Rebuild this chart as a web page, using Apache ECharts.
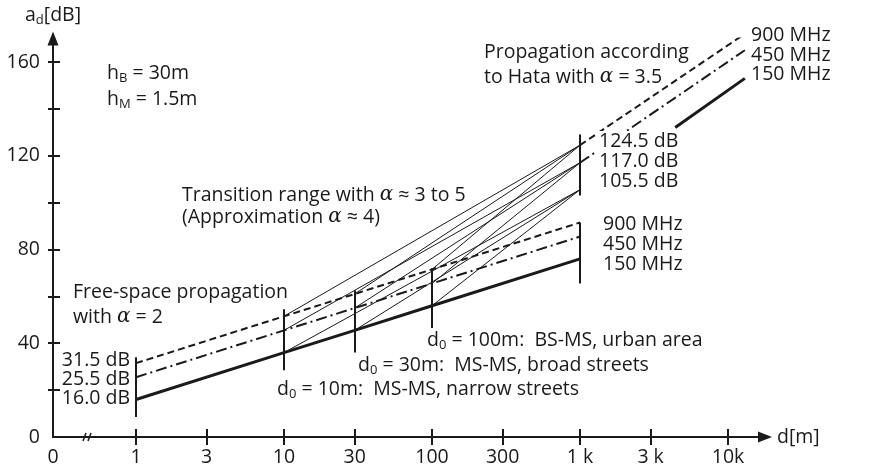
<!DOCTYPE html>
<html>
<head>
<meta charset="utf-8">
<script src="https://cdn.jsdelivr.net/npm/echarts@6/dist/echarts.min.js"></script>
<style>
html, body { margin: 0; padding: 0; background: #fff; }
#chart { width: 876px; height: 468px; }
</style>
</head>
<body>
<div id="chart"></div>
<script>
// free-space lines (alpha = 2), distances in metres, values in dB
var freeDist = [1, 10, 30, 100, 1000];
var free900 = [31.5, 51.5, 61, 71.5, 91.5];
var free450 = [25.5, 45.5, 55, 65.5, 85.5];
var free150 = [16.0, 36, 45.5, 56, 76];

// breakpoints d0 and the Hata values at 1 km
var breakDist = [10, 30, 100];
var hataRef = 1000;
var hataAt1k = [124.5, 117.0, 105.5];

// Hata lines (alpha = 3.5) beyond 1 km
var hata900Dist = [1000, 13000];
var hata900 = [124.5, 172];
var hata450Dist = [1000, 13000];
var hata450 = [117.0, 165];
var hata150Dist = [4400, 13000];
var hata150 = [132, 153];

// vertical marker bars
var barDist = [1, 10, 30, 100, 1000, 1000];
var barLow = [8.5, 28.5, 36, 46.5, 65.5, 103];
var barHigh = [34, 54.5, 62.5, 72, 91.5, 129];

// axis ticks
var xTicks = [1, 3, 10, 30, 100, 300, 1000, 3000, 10000];
var xTickLabels = ['1', '3', '10', '30', '100', '300', '1 k', '3 k', '10k'];
var yLabels = [0, 40, 80, 120, 160];
var yTicks = [20, 40, 60, 80, 100, 120, 140, 160];

var lg = Math.log10;
var X_MIN = -0.561, X_MAX = 4.25;
var FONT = '"Open Sans", "Noto Sans", sans-serif';
var INK = '#1a1a1a';

function pts(dist, vals) {
    return dist.map(function (d, i) { return [lg(d), vals[i]]; });
}

var transLines = [];
breakDist.forEach(function (d0) {
    var i = freeDist.indexOf(d0);
    [free900, free450, free150].forEach(function (arr, k) {
        transLines.push({coords: [[lg(d0), arr[i]], [lg(hataRef), hataAt1k[k]]]});
    });
});
var bars = barDist.map(function (d, i) {
    return {coords: [[lg(d), barLow[i]], [lg(d), barHigh[i]]]};
});

var DASH = [7, 4];
var DASHDOT = [11, 4, 2, 4];

function lineSeries(data, type, width) {
    return {
        type: 'line', data: data, symbol: 'none', silent: true,
        lineStyle: {color: INK, width: width, type: type}
    };
}

var rich = {
    s: {fontSize: 13, fontFamily: FONT, fill: INK, color: INK, padding: [10, 0, 0, 0]},
    a: {fontSize: 20, fontFamily: 'DejaVu Serif', fontStyle: 'italic', fill: INK, color: INK}
};
function txt(x, y, text, align, bg) {
    var style = {
        text: text, rich: rich, fontSize: 19.5, fontFamily: FONT, fill: INK,
        align: align || 'left', verticalAlign: 'middle'
    };
    if (bg) {
        style.backgroundColor = '#fff';
        style.padding = [0, 1, 0, 2];
    }
    return {type: 'text', x: x, y: y, silent: true, z: 10, style: style};
}

var chart = echarts.init(document.getElementById('chart'));
chart.setOption({
    animation: false,
    backgroundColor: '#fff',
    grid: {left: 53, right: 111, top: 38.5, bottom: 31},
    xAxis: [{
        type: 'value', min: X_MIN, max: X_MAX,
        name: 'd[m]', nameLocation: 'end', nameGap: 12,
        nameTextStyle: {fontSize: 19.5, fontFamily: FONT, color: INK, verticalAlign: 'middle'},
        axisLine: {onZero: false, lineStyle: {color: INK, width: 2}, symbol: ['none', 'triangle'], symbolSize: [11, 14]},
        axisTick: {customValues: xTicks.map(lg), length: 8, lineStyle: {color: INK, width: 2}},
        axisLabel: {
            customValues: [X_MIN].concat(xTicks.map(lg)), margin: 10,
            fontSize: 19.5, fontFamily: FONT, color: INK,
            formatter: function (v) {
                if (Math.abs(v - X_MIN) < 1e-6) return '0';
                var i = xTicks.indexOf(Math.round(Math.pow(10, v)));
                return i < 0 ? '' : xTickLabels[i];
            }
        },
        splitLine: {show: false}
    }, {
        type: 'value', min: X_MIN, max: X_MAX, position: 'bottom',
        axisLine: {show: false, onZero: false},
        axisTick: {inside: true, customValues: xTicks.map(lg), length: 8, lineStyle: {color: INK, width: 2}},
        axisLabel: {show: false},
        splitLine: {show: false}
    }],
    yAxis: [{
        type: 'value', min: 0, max: 170,
        name: '{m|a}{s|d}{m|[dB]}', nameLocation: 'end', nameGap: 12,
        nameTextStyle: {
            rich: {
                m: {fontSize: 19.5, fontFamily: FONT, color: INK},
                s: {fontSize: 13, fontFamily: FONT, color: INK, padding: [10, 0, 0, 0]}
            }
        },
        axisLine: {onZero: false, lineStyle: {color: INK, width: 2}, symbol: ['none', 'triangle'], symbolSize: [11, 14]},
        axisTick: {customValues: yTicks, length: 5, lineStyle: {color: INK, width: 2}},
        axisLabel: {customValues: yLabels, margin: 13, fontSize: 19.5, fontFamily: FONT, color: INK},
        splitLine: {show: false}
    }, {
        type: 'value', min: 0, max: 170, position: 'left',
        axisLine: {show: false, onZero: false},
        axisTick: {inside: true, customValues: yTicks, length: 7, lineStyle: {color: INK, width: 2}},
        axisLabel: {show: false},
        splitLine: {show: false}
    }],
    series: [
        lineSeries(pts(freeDist, free900), DASH, 2),
        lineSeries(pts(freeDist, free450), DASHDOT, 2),
        lineSeries(pts(freeDist, free150), 'solid', 3),
        lineSeries(pts(hata900Dist, hata900), DASH, 2),
        lineSeries(pts(hata450Dist, hata450), DASHDOT, 2),
        lineSeries(pts(hata150Dist, hata150), 'solid', 3),
        {
            type: 'lines', coordinateSystem: 'cartesian2d', silent: true,
            data: transLines, lineStyle: {color: INK, width: 1, opacity: 1}
        },
        {
            type: 'lines', coordinateSystem: 'cartesian2d', silent: true,
            data: bars, lineStyle: {color: INK, width: 2, opacity: 1}
        }
    ],
    graphic: [
        // axis break mark
        {type: 'rect', shape: {x: 84, y: 432, width: 7, height: 10}, style: {fill: '#fff'}, silent: true},
        {type: 'line', shape: {x1: 83, y1: 441, x2: 86, y2: 433}, style: {stroke: INK, lineWidth: 1.5}, silent: true},
        {type: 'line', shape: {x1: 88, y1: 441, x2: 91, y2: 433}, style: {stroke: INK, lineWidth: 1.5}, silent: true},

        txt(107, 73, 'h{s|B} = 30m'),
        txt(107, 99, 'h{s|M} = 1.5m'),
        txt(484, 52, 'Propagation according'),
        txt(484, 77, 'to Hata with {a|α} = 3.5'),
        txt(182, 195, 'Transition range with {a|α} ≈ 3 to 5'),
        txt(182, 217, '(Approximation {a|α} ≈ 4)'),
        txt(73, 292, 'Free-space propagation'),
        txt(73, 317, 'with {a|α} = 2'),
        txt(130, 360, '31.5 dB', 'right'),
        txt(130, 379, '25.5 dB', 'right'),
        txt(130, 398, '16.0 dB', 'right'),
        txt(597, 141, '124.5 dB', 'left', true),
        txt(597, 161, '117.0 dB', 'left', true),
        txt(597, 181, '105.5 dB', 'left', true),
        txt(603, 224, '900 MHz'),
        txt(603, 244, '450 MHz'),
        txt(603, 264, '150 MHz'),
        txt(751, 35, '900 MHz'),
        txt(751, 55, '450 MHz'),
        txt(751, 74, '150 MHz'),
        txt(427, 340, 'd{s|0} = 100m:  BS-MS, urban area'),
        txt(358, 365, 'd{s|0} = 30m:  MS-MS, broad streets'),
        txt(277, 389, 'd{s|0} = 10m:  MS-MS, narrow streets')
    ]
});
</script>
</body>
</html>
